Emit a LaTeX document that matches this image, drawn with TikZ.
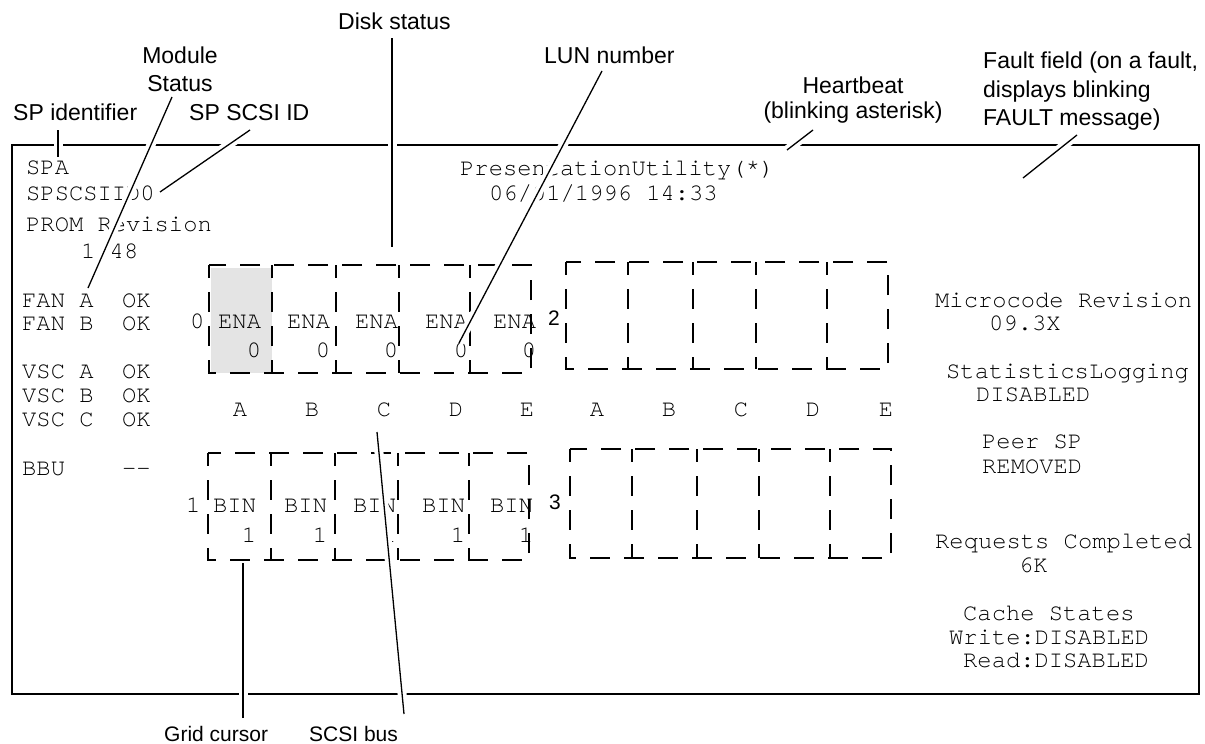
\documentclass[tikz,border=0pt]{standalone}
\usepackage{fontspec}
\setmainfont{Liberation Sans}
\newfontfamily\crfont{texgyrecursor-regular.otf}
\definecolor{cellgray}{RGB}{228,228,228}
\begin{document}
\begin{tikzpicture}[x=1pt,y=-1pt,
  lab/.style={font=\fontsize{23}{27}\selectfont,inner sep=0pt,anchor=base west},
  labc/.style={lab,anchor=base},
  labs/.style={lab,font=\fontsize{21}{25}\selectfont},
  mono/.style={font=\crfont\fontsize{23.8}{28}\selectfont,inner sep=0pt,anchor=base west},
  monoc/.style={mono,anchor=base},
  sansnum/.style={font=\fontsize{21}{25}\selectfont,inner sep=0pt,anchor=base west},
  frame/.style={line width=1.6pt},
  gridline/.style={line width=1.8pt,dash pattern=on 20pt off 14pt,dash phase=7pt},
  lead/.style={line width=1.3pt,preaction={draw=white,line width=9pt}}]
\useasboundingbox (0,0) rectangle (1205,744);
% grid cursor highlight
\fill[cellgray] (211,268) rectangle (272,373);
% screen frame
\draw[frame] (12,145) rectangle (1199,694);
% disk grids
\draw[gridline] (209,265) rectangle (531,373);
\foreach \x in {272,336,399,470} \draw[gridline] (\x,265) -- (\x,373);
\draw[gridline] (566,262) rectangle (888,369);
\foreach \x in {628,693,756,827} \draw[gridline] (\x,262) -- (\x,369);
\draw[gridline] (208,453) rectangle (529,560);
\foreach \x in {271,335,398,469} \draw[gridline] (\x,453) -- (\x,560);
\draw[gridline] (570,449) rectangle (891,558);
\foreach \x in {632,697,759,830} \draw[gridline] (\x,449) -- (\x,558);
% left column
\node[mono] (spa) at (26,174) {SPA};
\node[mono] (spid) at (26,200) {SPSCSIID0};
\node[mono] (prom) at (26,231) {PROM Revision};
\node[mono] (promv) at (81,258) {1 48};
\node[mono] (fana) at (22,307) {FAN A\ \ OK};
\node[mono] (fanb) at (22,330) {FAN B\ \ OK};
\node[mono] (vsca) at (22,378) {VSC A\ \ OK};
\node[mono] (vscb) at (22,402) {VSC B\ \ OK};
\node[mono] (vscc) at (22,426) {VSC C\ \ OK};
\node[mono] (bbu) at (22,475) {BBU\ \ \ \ --};
% title
\node[mono] (title) at (460,175) {PresentationUtility(*)};
\node[mono] (date) at (489,200) {06/01/1996 14:33};
% row 0
\node[mono] (r0) at (190,328) {0};
\foreach \x [count=\i] in {218,287,355,425,493} {
  \node[mono] (ena\i) at (\x,328) {ENA};
  \node[mono] (lun\i) at (\x+28.6,357) {0};
}
\node[sansnum] (r2) at (548,325) {2};
\foreach \x/\c [count=\i] in {240/A,312/B,384/C,456/D,527/E,597/A,669/B,741/C,813/D,886/E}
  \node[monoc] (col\i) at (\x,416) {\c};
% row 1
\node[mono] (r1) at (186,512) {1};
\foreach \x [count=\i] in {213,284,353,422,490} {
  \node[mono] (bin\i) at (\x,512) {BIN};
  \node[mono] (blun\i) at (\x+28.6,542) {1};
}
\node[sansnum] (r3) at (549,509) {3};
% right column
\node[mono] (mic) at (935,307) {Microcode Revision};
\node[mono] (micv) at (989,330) {09.3X};
\node[mono] (stat) at (946,378) {StatisticsLogging};
\node[mono] (statv) at (976,401) {DISABLED};
\node[mono] (peer) at (982,448) {Peer SP};
\node[mono] (peerv) at (982,473) {REMOVED};
\node[mono] (req) at (935,548) {Requests Completed};
\node[mono] (reqv) at (1019,572) {6K};
\node[mono] (cache) at (963,620) {Cache States};
\node[mono] (cw) at (949,644) {Write:DISABLED};
\node[mono] (cr) at (963,667) {Read:DISABLED};
% callout labels
\node[lab] (Ldisk) at (338,29) {Disk status};
\node[labc] (Lmod1) at (180,63) {Module};
\node[labc] (Lmod2) at (180,91) {Status};
\node[lab] (Lspid) at (13,120) {SP identifier};
\node[lab] (Lscsi) at (189,120) {SP SCSI ID};
\node[lab] (Llun) at (544,63) {LUN number};
\node[labc] (Lhb1) at (853,93) {Heartbeat};
\node[labc] (Lhb2) at (853,118) {(blinking asterisk)};
\node[lab] (Lf1) at (983,68) {Fault field (on a fault,};
\node[lab] (Lf2) at (983,97) {displays blinking};
\node[lab] (Lf3) at (983,125) {FAULT message)};
\node[labs] (Lcur) at (164,741) {Grid cursor};
\node[labs] (Lbus) at (309,741) {SCSI bus};
% leader coordinates
\coordinate (a1) at (58,130);   \coordinate (b1) at (58,157);
\coordinate (a2) at (172,97);   \coordinate (b2) at (88,288);
\coordinate (a3) at (250,130);  \coordinate (b3) at (160,192);
\coordinate (a4) at (392,38);   \coordinate (b4) at (392,247);
\coordinate (a5) at (602,71);   \coordinate (b5) at (459,343);
\coordinate (a6) at (813,130);  \coordinate (b6) at (787,150);
\coordinate (a7) at (1077,135); \coordinate (b7) at (1023,178);
\coordinate (a8) at (243,718);  \coordinate (b8) at (243,563);
\coordinate (a9) at (404,714);  \coordinate (b9) at (377,432);
\foreach \i in {1,...,9} \draw[lead] (a\i) -- (b\i);
\end{tikzpicture}
\end{document}
